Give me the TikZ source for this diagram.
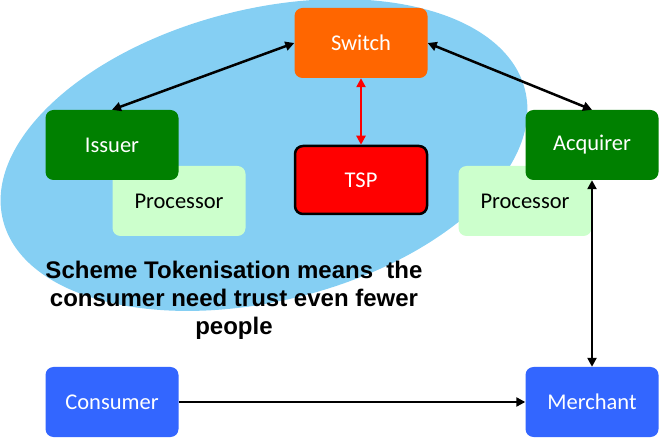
\documentclass[tikz,border=0pt]{standalone}
\usepackage{fontspec}
\setmainfont{Carlito}
\newfontfamily\arialfont{Liberation Sans}
\usetikzlibrary{arrows.meta}
\definecolor{ellblue}{HTML}{85CFF3}
\definecolor{switchorange}{HTML}{FF6600}
\definecolor{boxgreen}{HTML}{008000}
\definecolor{procgreen}{HTML}{CCFFCC}
\definecolor{tspred}{HTML}{FF0000}
\definecolor{boxblue}{HTML}{3366FF}
\tikzset{
  box/.style={rectangle, rounded corners=8pt, minimum width=133pt, minimum height=70pt,
    inner sep=0pt, font=\fontsize{22.5}{26}\selectfont, text=white},
  conn/.style={line width=2.5pt, {Triangle[length=9pt,width=9pt]}-{Triangle[length=9pt,width=9pt]}},
  oneway/.style={line width=2.5pt, -{Triangle[length=9pt,width=9pt]}}
}
\begin{document}
\begin{tikzpicture}[x=1pt,y=-1pt]
\useasboundingbox (0,0) rectangle (659,438);
\begin{scope}
\clip (0,0) rectangle (659,438);
\fill[ellblue, rotate around={14:(264,155)}] (264,155) ellipse [x radius=269, y radius=146];
\end{scope}
\node[box, fill=procgreen, text=black] (procL) at (179,201) {Processor};
\node[box, fill=boxgreen] (issuer) at (112,145) {Issuer};
\node[box, fill=procgreen, text=black] (procR) at (525,201) {Processor};
\node[box, fill=boxgreen] (acquirer) at (592,145) {Acquirer};
\node[box, fill=switchorange] (switch) at (361,43) {Switch};
\node[box, fill=tspred, draw=black, line width=2.5pt, minimum width=132pt, minimum height=68pt] (tsp) at (361,180) {TSP};
\node[box, fill=boxblue] (consumer) at (112,402) {Consumer};
\node[box, fill=boxblue] (merchant) at (592,402) {Merchant};
\node[font=\arialfont\bfseries\fontsize{24}{28}\selectfont, align=center] (label) at (234,300)
  {Scheme Tokenisation means\ \ the\\consumer need trust even fewer\\people};
\draw[conn] (issuer.north) -- (switch.west);
\draw[conn] (switch.east) -- (acquirer.north);
\draw[conn, draw=tspred, {Triangle[length=9pt,width=9pt,fill=tspred]}-{Triangle[length=9pt,width=9pt,fill=tspred]}] (switch.south) -- (tsp.north);
\draw[conn] (acquirer.south) -- (merchant.north);
\draw[oneway] (consumer.east) -- (merchant.west);
\end{tikzpicture}
\end{document}
